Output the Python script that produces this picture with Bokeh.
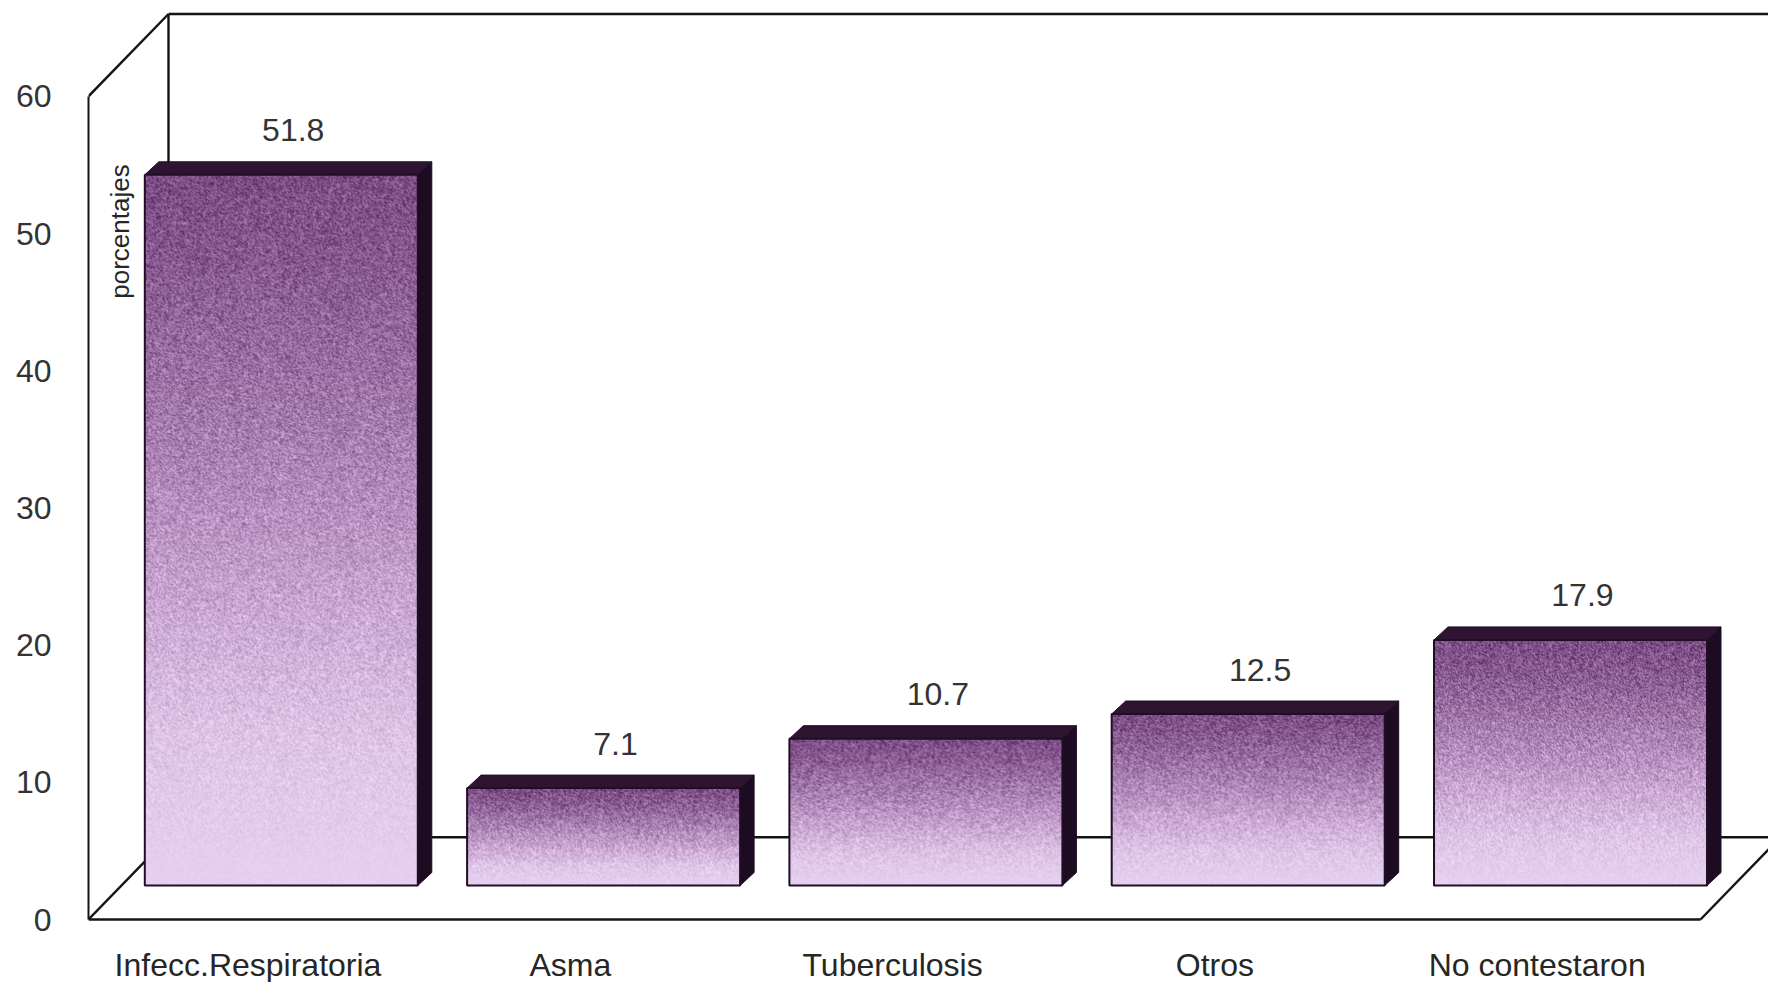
import numpy as np
from bokeh.embed import file_html
from bokeh.models import ColumnDataSource, FixedTicker, Range1d
from bokeh.plotting import figure
from bokeh.resources import INLINE

# ---- data ----
categories = ["Infecc.Respiratoria", "Asma", "Tuberculosis", "Otros", "No contestaron"]
percentages = [51.8, 7.1, 10.7, 12.5, 17.9]
value_labels = ["51.8", "7.1", "10.7", "12.5", "17.9"]
y_ticks = [0, 10, 20, 30, 40, 50, 60]
axis_title = "porcentajes"

# ---- layout (pixels of the 1768x982 picture) ----
PX_PER_UNIT = 13.72
PX_PER_SLOT = 322.3
FIRST_BAR_PX = 280.8
WALL_PX = 88.0
FLOOR_PX = 919.0
DEPTH_Y = 6.0                       # floor/wall depth in value units
DEPTH_X = 80.0 / PX_PER_SLOT
BAR_DX = 14.0 / PX_PER_SLOT
BAR_DY = 13.0 / PX_PER_UNIT
BAR_BASE = (FLOOR_PX - 885.0) / PX_PER_UNIT
BAR_W = 273.0 / PX_PER_SLOT
X0 = (WALL_PX - FIRST_BAR_PX) / PX_PER_SLOT
X1 = (1768.0 - FIRST_BAR_PX) / PX_PER_SLOT
Y0 = (FLOOR_PX - 982.0) / PX_PER_UNIT
Y1 = FLOOR_PX / PX_PER_UNIT
X_RIGHT_FRONT = (1700.0 - FIRST_BAR_PX) / PX_PER_SLOT
Y_MAX = 60
Y_BACK_TOP = Y_MAX + DEPTH_Y
FONT = "Liberation Sans"
INK = "#141414"
TOP_FACE = "#2e1431"
SIDE_FACE = "#1d0c21"
EDGE = "#1f0e26"

p = figure(width=1768, height=982, output_backend="svg", toolbar_location=None,
           x_axis_location=None,
           x_range=Range1d(X0, X1), y_range=Range1d(Y0, Y1),
           min_border_left=88, min_border_right=0, min_border_top=0, min_border_bottom=0,
           background_fill_color="white", border_fill_color="white")
p.outline_line_color = None
p.grid.visible = False

# value axis
p.yaxis.ticker = FixedTicker(ticks=y_ticks)
p.yaxis.bounds = (0, Y_MAX)
p.yaxis.axis_line_color = INK
p.yaxis.axis_line_width = 2
p.yaxis.major_tick_line_color = None
p.yaxis.major_tick_out = 0
p.yaxis.major_tick_in = 0
p.yaxis.minor_tick_line_color = None
p.yaxis.minor_tick_out = 0
p.yaxis.major_label_standoff = 37
p.yaxis.major_label_text_font = FONT
p.yaxis.major_label_text_font_size = "32px"
p.yaxis.major_label_text_color = "#333333"

# box frame (walls and floor)
lines = [
    ([X0, X_RIGHT_FRONT], [0, 0]),
    ([X0, X0 + DEPTH_X], [Y_MAX, Y_BACK_TOP]),
    ([X0 + DEPTH_X, X0 + DEPTH_X], [DEPTH_Y, Y_BACK_TOP]),
    ([X0 + DEPTH_X, X1], [Y_BACK_TOP, Y_BACK_TOP]),
    ([X0, X0 + DEPTH_X], [0, DEPTH_Y]),
    ([X0 + DEPTH_X, X1], [DEPTH_Y, DEPTH_Y]),
    ([X_RIGHT_FRONT, X_RIGHT_FRONT + DEPTH_X], [0, DEPTH_Y]),
]
p.multi_line([l[0] for l in lines], [l[1] for l in lines], line_color=INK, line_width=2.4)


def hex_rgb(h):
    return np.array([int(h[i:i + 2], 16) for i in (1, 3, 5)], dtype=float)


STOPS = [0.0, 0.12, 0.35, 0.6, 0.8, 1.0]
STOP_COLORS = [hex_rgb(c) for c in ("#7c4d85", "#86588f", "#a57cae", "#c9a6d1", "#dfc6e8", "#e6d2f0")]


def face_image(value, seed):
    """Shaded front face: dark plum at the top to pale lilac at the base, with a print-like grain."""
    h = max(int(round(value * PX_PER_UNIT)), 2)
    w = int(round(BAR_W * PX_PER_SLOT))
    rows, cols = np.mgrid[0:h, 0:w]
    t = 1 - rows / (h - 1)              # row 0 is the base of the bar in image_rgba
    rgb = np.stack([np.interp(t, STOPS, [c[k] for c in STOP_COLORS]) for k in range(3)], axis=-1)
    grain = np.modf(np.sin(cols * 12.9898 + rows * 78.233 + seed) * 43758.5453)[0]
    grain = np.abs(grain) - 0.5
    soft = (grain + np.roll(grain, 1, 0) + np.roll(grain, 1, 1)) / 3
    amount = 100 * np.clip(1.05 - t ** 3, 0.12, 1)
    rgb = np.clip(rgb + (soft * amount)[..., None], 0, 255)
    out = np.empty((h, w), dtype=np.uint32)
    view = out.view(dtype=np.uint8).reshape((h, w, 4))
    view[..., :3] = rgb.astype(np.uint8)
    view[..., 3] = 255
    return out


for i, v in enumerate(percentages):
    l, r = i - BAR_W / 2, i + BAR_W / 2
    b, t = BAR_BASE, BAR_BASE + v
    p.patch([l, l + BAR_DX, r + BAR_DX, r], [t, t + BAR_DY, t + BAR_DY, t],
            fill_color=TOP_FACE, line_color=EDGE, line_width=1)
    p.patch([r, r + BAR_DX, r + BAR_DX, r], [b, b + BAR_DY, t + BAR_DY, t],
            fill_color=SIDE_FACE, line_color=EDGE, line_width=1)
    p.image_rgba(image=[face_image(v, i)], x=l, y=b, dw=BAR_W, dh=v)
    p.quad(left=l, right=r, bottom=b, top=t, fill_alpha=0, line_color=EDGE, line_width=2)

src = ColumnDataSource(dict(
    x=[i + 0.037 for i in range(len(percentages))],
    y=[BAR_BASE + v + BAR_DY + 31.5 / PX_PER_UNIT for v in percentages],
    text=value_labels,
))
p.text("x", "y", "text", source=src, text_font={"value": FONT}, text_font_size={"value": "32px"},
       text_align="center", text_baseline="middle", text_color="#333333")

p.text([(119.0 - FIRST_BAR_PX) / PX_PER_SLOT], [(FLOOR_PX - 231.0) / PX_PER_UNIT], [axis_title],
       angle=np.pi / 2, text_font={"value": FONT}, text_font_size={"value": "26px"},
       text_align="center", text_baseline="middle", text_color="#262626")

# category names sit under the front floor edge
cat_src = ColumnDataSource(dict(
    x=[i - 33.3 / PX_PER_SLOT for i in range(len(categories))],
    y=[(FLOOR_PX - 964.0) / PX_PER_UNIT] * len(categories),
    text=categories,
))
p.text("x", "y", "text", source=cat_src, text_font={"value": FONT}, text_font_size={"value": "32px"},
       text_align="center", text_baseline="middle", text_color="#262626")

open("out.html", "w").write(file_html(p, INLINE))
